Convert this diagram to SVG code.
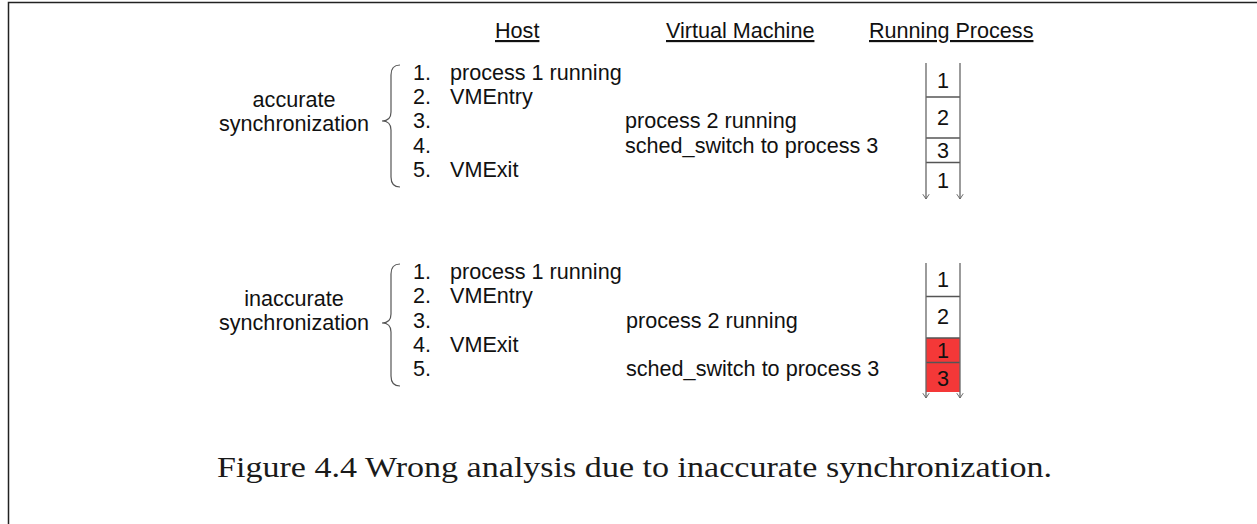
<svg xmlns="http://www.w3.org/2000/svg" width="1257" height="524" viewBox="0 0 1257 524">
<defs>
<style>
.t{font-family:"Liberation Sans",Arial,sans-serif;font-size:21.6px;fill:#111}
.h{text-decoration:underline}
.m{text-anchor:middle}
.cap{font-family:"Times New Roman","Liberation Serif",Times,serif;font-size:30px;font-weight:normal;fill:#1a1a1a}
.br{fill:none;stroke:#555;stroke-width:1.2}
.col{fill:none;stroke:#666;stroke-width:1.3}
.div{stroke:#555;stroke-width:1.3}
</style>
<marker id="ah" viewBox="0 0 10 10" refX="9" refY="5" markerWidth="8" markerHeight="8" markerUnits="userSpaceOnUse" orient="auto">
<path d="M3,1 L9,5 L3,9" fill="none" stroke="#666" stroke-width="1.2"/>
</marker>
</defs>
<rect width="1257" height="524" fill="#fff"/>
<path d="M8.5,524 V2.5 H1257" fill="none" stroke="#222" stroke-width="1.5"/>

<g id="headers">
<text class="t h" x="495" y="38">Host</text>
<text class="t h" x="666" y="38">Virtual Machine</text>
<text class="t h" x="869" y="38">Running Process</text>
</g>

<g id="accurate">
<text class="t m" x="294" y="107">accurate</text>
<text class="t m" x="294" y="131">synchronization</text>
<path class="br" d="M400,65 Q391,65 391,75 V112 Q391,121 382,121 Q391,121 391,130 V177 Q391,187 400,187"/>
<text class="t" x="413" y="80">1.</text>
<text class="t" x="413" y="104">2.</text>
<text class="t" x="413" y="128">3.</text>
<text class="t" x="413" y="153">4.</text>
<text class="t" x="413" y="177">5.</text>
<text class="t" x="450" y="80">process 1 running</text>
<text class="t" x="450" y="104">VMEntry</text>
<text class="t" x="625" y="128">process 2 running</text>
<text class="t" x="625" y="153">sched_switch to process 3</text>
<text class="t" x="450" y="177">VMExit</text>
</g>

<g id="inaccurate">
<text class="t m" x="294" y="306">inaccurate</text>
<text class="t m" x="294" y="330">synchronization</text>
<path class="br" d="M400,264 Q391,264 391,274 V314 Q391,323 382,323 Q391,323 391,332 V376 Q391,386 400,386"/>
<text class="t" x="413" y="279">1.</text>
<text class="t" x="413" y="303">2.</text>
<text class="t" x="413" y="328">3.</text>
<text class="t" x="413" y="352">4.</text>
<text class="t" x="413" y="376">5.</text>
<text class="t" x="450" y="279">process 1 running</text>
<text class="t" x="450" y="303">VMEntry</text>
<text class="t" x="626" y="328">process 2 running</text>
<text class="t" x="450" y="352">VMExit</text>
<text class="t" x="626" y="376">sched_switch to process 3</text>
</g>

<g id="stack-accurate">
<line class="div" x1="926" y1="97" x2="960" y2="97"/>
<line class="div" x1="926" y1="138" x2="960" y2="138"/>
<line class="div" x1="926" y1="162.5" x2="960" y2="162.5"/>
<text class="t m" x="943" y="88">1</text>
<text class="t m" x="943" y="125">2</text>
<text class="t m" x="943" y="158">3</text>
<text class="t m" x="943" y="188">1</text>
</g>

<g id="stack-inaccurate">
<rect x="926" y="338" width="34" height="54" fill="#f43838"/>
<line class="div" x1="926" y1="296.5" x2="960" y2="296.5"/>
<line class="div" x1="926" y1="338" x2="960" y2="338"/>
<line class="div" x1="926" y1="362.5" x2="960" y2="362.5"/>
<text class="t m" x="943" y="287">1</text>
<text class="t m" x="943" y="324">2</text>
<text class="t m" x="943" y="358">1</text>
<text class="t m" x="943" y="386">3</text>
</g>

<g id="connectors">
<line class="col" x1="926" y1="63" x2="926" y2="199" marker-end="url(#ah)"/>
<line class="col" x1="960" y1="63" x2="960" y2="199" marker-end="url(#ah)"/>
<line class="col" x1="926" y1="263" x2="926" y2="398" marker-end="url(#ah)"/>
<line class="col" x1="960" y1="263" x2="960" y2="398" marker-end="url(#ah)"/>
</g>

<g id="caption">
<text class="cap" x="217" y="477" textLength="835" lengthAdjust="spacingAndGlyphs">Figure 4.4 Wrong analysis due to inaccurate synchronization.</text>
</g>
</svg>
